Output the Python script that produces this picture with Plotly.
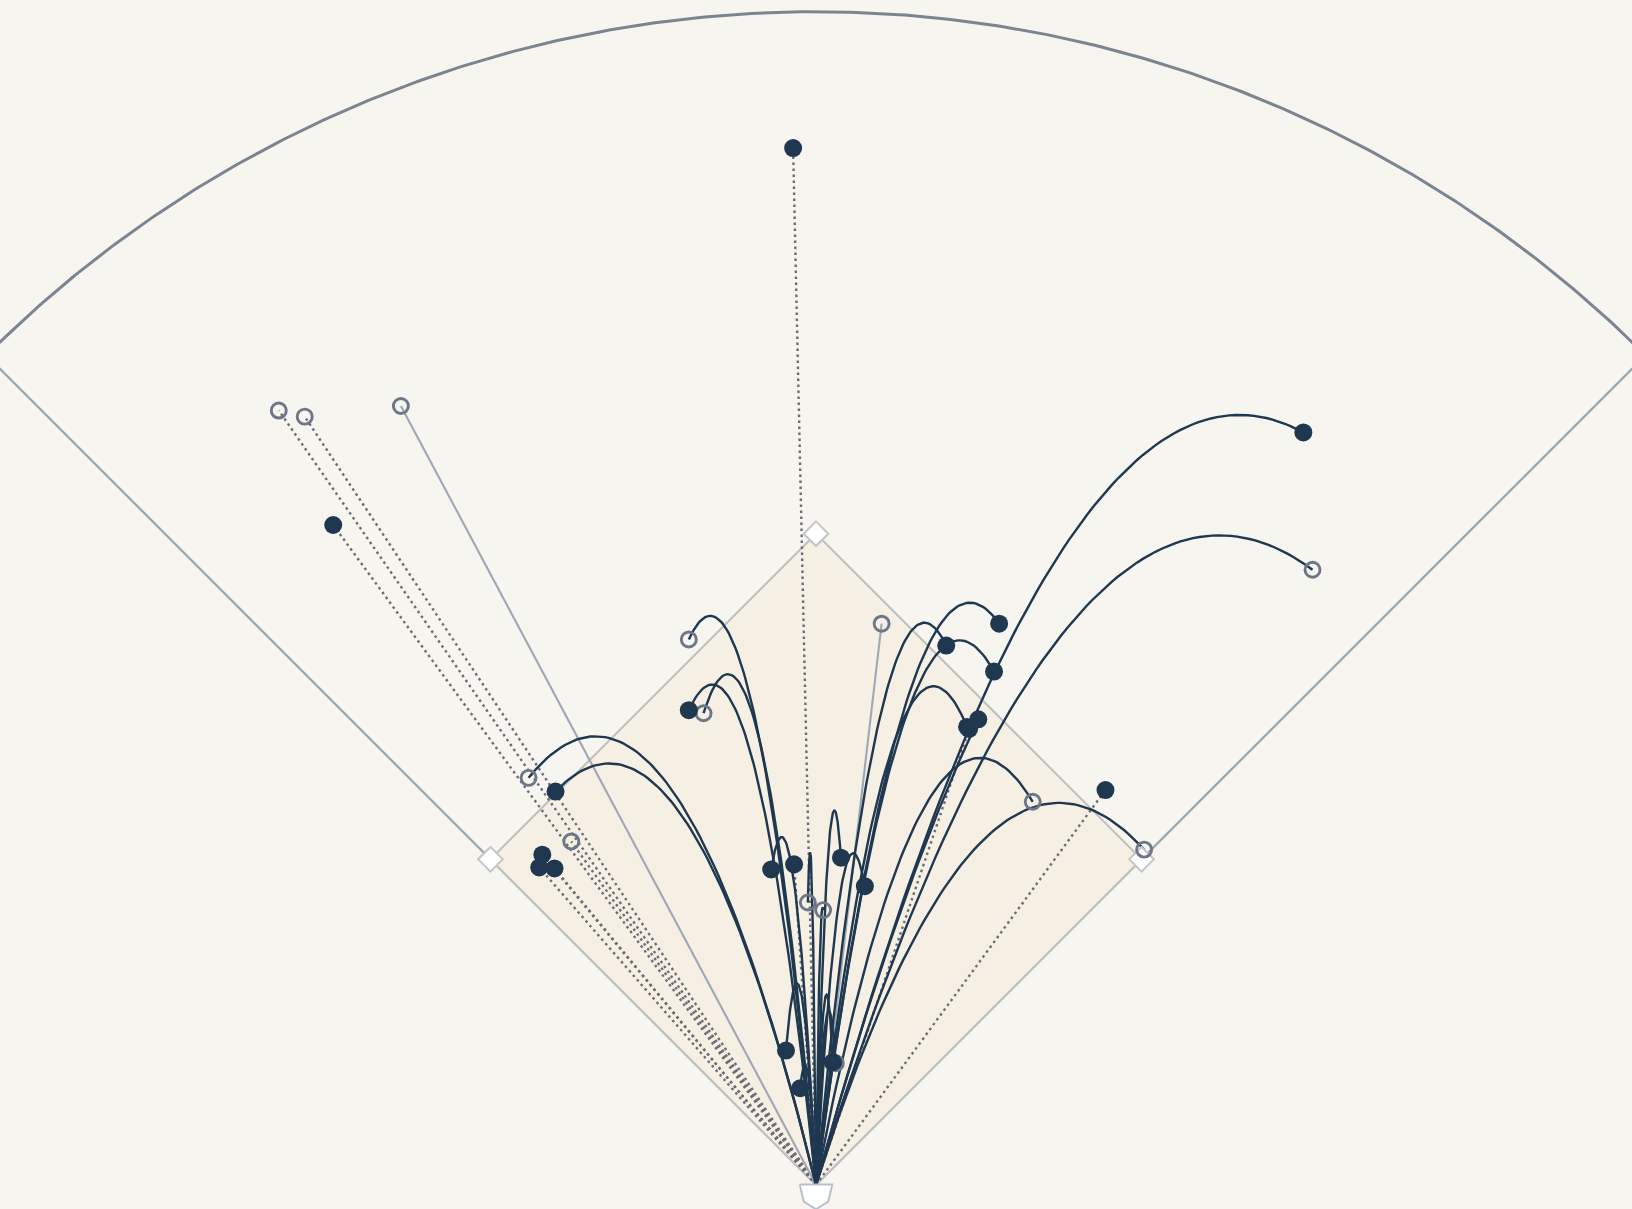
import numpy as np
import plotly.graph_objects as go

# ---------------- data (feet, home plate at origin, y toward center field) ----------------
# Fly balls / line drives: landing x, landing y, apex height, result
fly_x = [95.8, 97.6, 36.0, 25.6, 35.0, 29.7, 31.9, -25.0, -25.0, -22.1, -51.2, -56.5,
         42.6, 64.5, -8.8, 4.9, 9.6, -1.6, 1.4, -5.9, -3.1, 3.3, 3.9]
fly_y = [147.9, 120.9, 110.3, 106.0, 100.9, 90.0, 91.5, 93.3, 107.2, 92.7, 77.3, 80.0,
         75.3, 65.9, 62.0, 64.3, 58.7, 55.5, 54.0, 26.4, 19.0, 24.1, 23.9]
fly_h = [50.1, 48.3, 40.5, 39.9, 41.1, 40.5, 6.1, 37.0, 40.5, 40.9, 32.8, 37.5,
         36.6, 34.2, 29.1, 33.8, 28.2, 31.5, 16.4, 24.6, 12.3, 23.8, 20.5]
fly_hit = [True, False, True, True, True, True, True, True, False, False, True, False,
           False, False, True, True, True, False, False, True, True, True, False]

# Ground balls: landing x, landing y, result
gb_x = [-4.5, -94.9, -105.6, -100.5, -48.1, -53.8, -54.4, -51.4, 56.9, 30.1, -4.3]
gb_y = [203.8, 129.7, 152.2, 151.0, 67.5, 64.9, 62.4, 62.2, 77.6, 89.6, 63.0]
gb_hit = [True, True, False, False, False, True, True, True, True, True, True]

# Pop-ups / bunts (straight light lines)
pu_x = [-81.6, 12.9]
pu_y = [153.1, 110.3]
pu_hit = [False, False]

# Field
BASE = 90.5
FENCE_R = 230.6

# ---------------- colours ----------------
BG = "#f6f5f0"
INFIELD = "#f6f0e4"
NAVY = "#1f3850"
RING = "#6e7787"
DOT = "#6c6c76"
LIGHT = "#9fa7b4"

fig = go.Figure()

# foul lines
d = FENCE_R / np.sqrt(2)
fig.add_trace(go.Scatter(x=[-d, 0, d], y=[d, 0, d], mode="lines",
                         line=dict(color="#9ea6b0", width=2.3), hoverinfo="skip"))

# infield diamond
b = BASE / np.sqrt(2)
fig.add_trace(go.Scatter(x=[0, b, 0, -b, 0], y=[0, b, 2 * b, b, 0], mode="lines",
                         fill="toself", fillcolor=INFIELD,
                         line=dict(color="#c0c0c0", width=2), hoverinfo="skip"))

# outfield arc
ang = np.linspace(np.pi / 4, 3 * np.pi / 4, 300)
fig.add_trace(go.Scatter(x=FENCE_R * np.cos(ang), y=FENCE_R * np.sin(ang), mode="lines",
                         line=dict(color="#7b858f", width=3), hoverinfo="skip"))

# ground ball lines (dotted)
gx, gy = [], []
for x, y in zip(gb_x, gb_y):
    gx += [0, x, None]
    gy += [0, y, None]
fig.add_trace(go.Scatter(x=gx, y=gy, mode="lines",
                         line=dict(color=DOT, width=2.4, dash="2.5px,3.5px"), hoverinfo="skip"))

# pop-up lines
px_, py_ = [], []
for x, y in zip(pu_x, pu_y):
    px_ += [0, x, None]
    py_ += [0, y, None]
fig.add_trace(go.Scatter(x=px_, y=py_, mode="lines",
                         line=dict(color=LIGHT, width=2.1), hoverinfo="skip"))

# fly ball arcs: ground path plus height projected upward
t = np.linspace(0, 1, 80)
ax, ay = [], []
for x, y, h in zip(fly_x, fly_y, fly_h):
    ax += list(t * x) + [None]
    ay += list(t * y + 4 * h * t * (1 - t)) + [None]
fig.add_trace(go.Scatter(x=ax, y=ay, mode="lines",
                         line=dict(color=NAVY, width=2.4), hoverinfo="skip"))

# bases
fig.add_trace(go.Scatter(x=[b, 0, -b], y=[b, 2 * b, b], mode="markers",
                         marker=dict(symbol="diamond", size=19, color="white",
                                     line=dict(color="#c6c6c6", width=2)), hoverinfo="skip"))

# home plate
fig.add_trace(go.Scatter(x=[-3.2, 3.2, 2.4, 0, -2.4, -3.2], y=[0.05, 0.05, -3.3, -4.8, -3.3, 0.05],
                         mode="lines", fill="toself", fillcolor="white",
                         line=dict(color="#b9c1cc", width=2), hoverinfo="skip"))

# markers
all_x = fly_x + gb_x + pu_x
all_y = fly_y + gb_y + pu_y
all_hit = fly_hit + gb_hit + pu_hit
ox = [x for x, h in zip(all_x, all_hit) if not h]
oy = [y for y, h in zip(all_y, all_hit) if not h]
hx = [x for x, h in zip(all_x, all_hit) if h]
hy = [y for y, h in zip(all_y, all_hit) if h]
fig.add_trace(go.Scatter(x=ox, y=oy, mode="markers",
                         marker=dict(size=15, color="rgba(0,0,0,0)",
                                     line=dict(color=RING, width=2.9)), name="Out"))
fig.add_trace(go.Scatter(x=hx, y=hy, mode="markers",
                         marker=dict(size=18, color=NAVY, line=dict(width=0)), name="Hit"))

fig.update_layout(width=1632, height=1209, margin=dict(l=0, r=0, t=0, b=0),
                  paper_bgcolor=BG, plot_bgcolor=BG, showlegend=False)
fig.update_xaxes(visible=False, range=[-160.4, 160.4])
fig.update_yaxes(visible=False, range=[-4.75, 232.9])

fig.write_html("out.html", config={"displayModeBar": False},
               post_script="document.body.style.margin='0';")
